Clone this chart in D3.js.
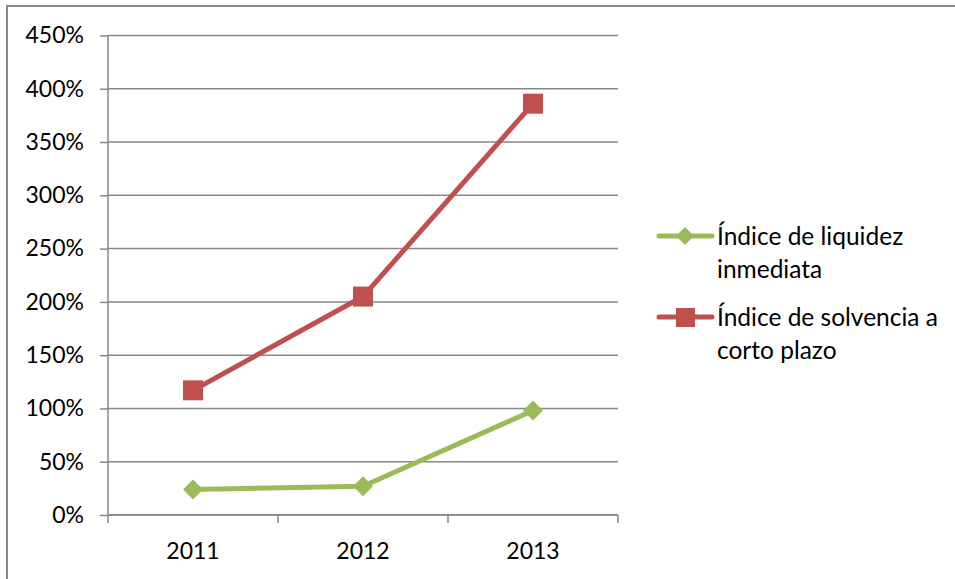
<!DOCTYPE html>
<html>
<head>
<meta charset="utf-8">
<script src="https://cdn.jsdelivr.net/npm/d3@7"></script>
<style>
  html, body { margin: 0; padding: 0; background: #fff; }
  svg { display: block; font-family: Lato, "Open Sans", sans-serif; }
</style>
</head>
<body>
<svg id="chart" width="955" height="579"></svg>
<script>
// Years on the category axis
const years = ["2011", "2012", "2013"];
// Ratios in percent
const liquidezInmediata = [24, 27, 98];
const solvenciaCortoPlazo = [117, 205, 386];
// Value axis ticks
const yTicks = [0, 50, 100, 150, 200, 250, 300, 350, 400, 450];

const series = [
  { name: ["Índice de liquidez", "inmediata"], values: liquidezInmediata, color: "#9BBB59", shape: "diamond" },
  { name: ["Índice de solvencia a", "corto plazo"], values: solvenciaCortoPlazo, color: "#C0504D", shape: "square" }
];

const svg = d3.select("#chart");
const gridColor = "#878787";

// Outer frame
svg.append("rect")
  .attr("x", 7).attr("y", 6).attr("width", 960).attr("height", 600)
  .attr("fill", "none").attr("stroke", gridColor).attr("stroke-width", 2);

const plotLeft = 108, plotRight = 618, plotTop = 35.5, plotBottom = 515;
const x = d3.scaleBand().domain(years).range([plotLeft, plotRight]);
const y = d3.scaleLinear().domain([0, 450]).range([plotBottom, plotTop]);

// Horizontal gridlines
svg.append("g").selectAll("line").data(yTicks).join("line")
  .attr("x1", plotLeft).attr("x2", plotRight)
  .attr("y1", d => y(d)).attr("y2", d => y(d))
  .attr("stroke", gridColor).attr("stroke-width", 1.5);

// Y axis
const yAxis = svg.append("g").attr("transform", `translate(${plotLeft},0)`)
  .call(d3.axisLeft(y).tickValues(yTicks).tickFormat(d => d + "%").tickSize(8).tickPadding(16));
yAxis.select(".domain").attr("stroke", gridColor).attr("stroke-width", 1.5).attr("d", `M0,${plotTop}V${plotBottom}`);
yAxis.selectAll(".tick line").attr("stroke", gridColor).attr("stroke-width", 1.5);
yAxis.selectAll("text").attr("font-size", 23).attr("fill", "#000").attr("font-family", "Lato, sans-serif");

// X axis with ticks on category boundaries
const xAxisG = svg.append("g").attr("transform", `translate(0,${plotBottom})`);
xAxisG.append("line").attr("x1", plotLeft).attr("x2", plotRight)
  .attr("stroke", gridColor).attr("stroke-width", 1.5);
const boundaries = years.map(d => x(d)).concat([x(years[years.length - 1]) + x.bandwidth()]);
xAxisG.selectAll("line.tk").data(boundaries).join("line").attr("class", "tk")
  .attr("x1", d => d).attr("x2", d => d).attr("y1", 0).attr("y2", 8)
  .attr("stroke", gridColor).attr("stroke-width", 1.5);
xAxisG.selectAll("text").data(years).join("text")
  .attr("x", d => x(d) + x.bandwidth() / 2).attr("y", 44)
  .attr("text-anchor", "middle").attr("font-size", 23).attr("fill", "#000")
  .text(d => d);

const cx = d => x(d) + x.bandwidth() / 2;
const line = d3.line().x((d, i) => cx(years[i])).y(d => y(d));

series.forEach(s => {
  svg.append("path").datum(s.values)
    .attr("d", line).attr("fill", "none")
    .attr("stroke", s.color).attr("stroke-width", 5).attr("stroke-linejoin", "round");
  s.values.forEach((v, i) => {
    const g = svg.append("g").attr("transform", `translate(${cx(years[i])},${y(v)})`);
    if (s.shape === "diamond") {
      g.append("path").attr("d", "M0,-10L10,0L0,10L-10,0Z").attr("fill", s.color);
    } else {
      g.append("rect").attr("x", -10).attr("y", -10).attr("width", 20).attr("height", 20).attr("fill", s.color);
    }
  });
});

// Legend
const legendY = [236, 317];
series.forEach((s, i) => {
  const g = svg.append("g").attr("transform", `translate(0,${legendY[i]})`);
  g.append("line").attr("x1", 659).attr("x2", 712)
    .attr("stroke", s.color).attr("stroke-width", 5).attr("stroke-linecap", "round");
  if (s.shape === "diamond") {
    g.append("path").attr("d", "M685,-9L694,0L685,9L676,0Z").attr("fill", s.color);
  } else {
    g.append("rect").attr("x", 676).attr("y", -9).attr("width", 19).attr("height", 19).attr("fill", s.color);
  }
  s.name.forEach((t, j) => {
    g.append("text").attr("x", 717).attr("y", 9 + j * 33)
      .attr("font-size", 24.5).attr("fill", "#000").text(t);
  });
});
</script>
</body>
</html>
